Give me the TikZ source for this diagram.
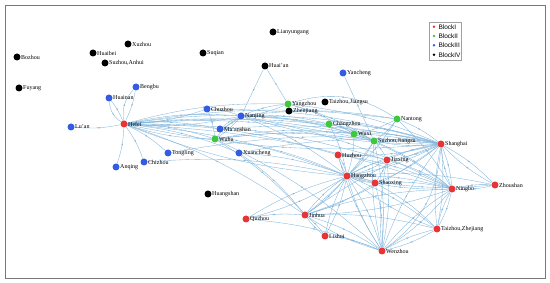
\documentclass[tikz,border=0pt]{standalone}
\usepackage{fontspec}
\setmainfont{Liberation Serif}
\newfontfamily\legfont{Liberation Sans}
\usetikzlibrary{arrows.meta,decorations.markings,backgrounds}
\definecolor{edgeblue}{RGB}{128,180,218}
\definecolor{bred}{RGB}{232,52,52}
\definecolor{bgreen}{RGB}{62,200,62}
\definecolor{bblue}{RGB}{52,92,226}
\definecolor{frameg}{RGB}{120,120,120}
\tikzset{
  city/.style={circle,inner sep=0pt,minimum size=7pt},
  cI/.style={city,fill=bred},
  cII/.style={city,fill=bgreen},
  cIII/.style={city,fill=bblue},
  cIV/.style={city,fill=black},
  lbl/.style={font=\fontsize{6}{6}\selectfont,inner sep=0.3pt,text=black},
  e/.style={draw=edgeblue,line width=0.35pt,bend left=8,
    postaction={decorate},
    decoration={markings,mark=at position 0.5 with {\arrow{Stealth[length=2.2pt,width=1.6pt]}}}},
  es/.style={e,bend left=0},
  eb/.style={e,bend left=25},
  legdot/.style={circle,inner sep=0pt,minimum size=2.8pt},
  legtxt/.style={font=\legfont\fontsize{6.5}{6.5}\selectfont,anchor=west,inner sep=0pt},
}
\begin{document}
\begin{tikzpicture}[x=1pt,y=1pt]
\useasboundingbox (0,0) rectangle (550,283);
\draw[frameg,line width=0.8pt] (5,4.5) rectangle (545,278);
% nodes
\node[cIV,label={[lbl]east:Bozhou}] (bozhou) at (17,226) {};
\node[cIV,label={[lbl]east:Huaibei}] (huaibei) at (93,230) {};
\node[cIV,label={[lbl]east:Xuzhou}] (xuzhou) at (128,239) {};
\node[cIV,label={[lbl]east:Suzhou,Anhui}] (suzhouah) at (105,220) {};
\node[cIV,label={[lbl]east:Fuyang}] (fuyang) at (19,195) {};
\node[cIII,label={[lbl]east:Bengbu}] (bengbu) at (136,196) {};
\node[cIII,label={[lbl]east:Huainan}] (huainan) at (109,185) {};
\node[cIII,label={[lbl]east:Lu'an}] (luan) at (71,156) {};
\node[cI,label={[lbl]east:Hefei}] (hefei) at (124,159) {};
\node[cIV,label={[lbl]east:Lianyungang}] (lianyungang) at (273,251) {};
\node[cIV,label={[lbl]east:Suqian}] (suqian) at (203,230) {};
\node[cIV,label={[lbl]east:Huai'an}] (huaian) at (265,217) {};
\node[cIII,label={[lbl]east:Yancheng}] (yancheng) at (343,210) {};
\node[cII,label={[lbl]east:Yangzhou}] (yangzhou) at (288,179) {};
\node[cIV,label={[lbl]east:Zhenjiang}] (zhenjiang) at (289,172) {};
\node[cIV,label={[lbl]east:Taizhou,Jiangsu}] (taizhoujs) at (325,181) {};
\node[cIII,label={[lbl]east:Chuzhou}] (chuzhou) at (207,174) {};
\node[cIII,label={[lbl]east:Nanjing}] (nanjing) at (241,167) {};
\node[cIII,label={[lbl]east:Ma'anshan}] (maanshan) at (220,154) {};
\node[cII,label={[lbl]east:Changzhou}] (changzhou) at (329,159) {};
\node[cII,label={[lbl]east:Nantong}] (nantong) at (397,164) {};
\node[cIII,label={[lbl]east:Tongling}] (tongling) at (168,130) {};
\node[cIII,label={[lbl]east:Chizhou}] (chizhou) at (144,121) {};
\node[cIII,label={[lbl]east:Anqing}] (anqing) at (116,116) {};
\node[cII,label={[lbl]east:Wuhu}] (wuhu) at (215,144) {};
\node[cIII,label={[lbl]east:Xuancheng}] (xuancheng) at (239,130) {};
\node[cI,label={[lbl]east:Huzhou}] (huzhou) at (338,128) {};
\node[cI,label={[lbl]east:Hangzhou}] (hangzhou) at (347,107) {};
\node[cIV,label={[lbl]east:Huangshan}] (huangshan) at (208,89) {};
\node[cI,label={[lbl]east:Quzhou}] (quzhou) at (246,64) {};
\node[cI,label={[lbl]east:Jinhua}] (jinhua) at (305,68) {};
\node[cI,label={[lbl]east:Lishui}] (lishui) at (325,47) {};
\node[cII,label={[lbl]east:Wuxi}] (wuxi) at (354,149) {};
\node[cII,label={[lbl]east:Suzhou,Jiangsu}] (suzhoujs) at (374,142) {};
\node[cI,label={[lbl]east:Shanghai}] (shanghai) at (441,139) {};
\node[cI,label={[lbl]east:Jiaxing}] (jiaxing) at (387,123) {};
\node[cI,label={[lbl]east:Shaoxing}] (shaoxing) at (375,100) {};
\node[cI,label={[lbl]east:Ningbo}] (ningbo) at (452,94) {};
\node[cI,label={[lbl]east:Zhoushan}] (zhoushan) at (495,98) {};
\node[cI,label={[lbl]east:Taizhou,Zhejiang}] (taizhouzj) at (437,54) {};
\node[cI,label={[lbl]east:Wenzhou}] (wenzhou) at (382,32) {};
% legend
\draw[frameg!70,line width=0.5pt] (429.5,222.5) rectangle (461.5,261);
\node[legdot,fill=bred] (lg1) at (434,256.3) {};
\node[legdot,fill=bgreen] (lg2) at (434,247) {};
\node[legdot,fill=bblue] (lg3) at (434,237.7) {};
\node[legdot,fill=black] (lg4) at (434,228.3) {};
\node[legtxt] (lt1) at (438.3,256.3) {BlockI};
\node[legtxt] (lt2) at (438.3,247) {BlockII};
\node[legtxt] (lt3) at (438.3,237.7) {BlockIII};
\node[legtxt] (lt4) at (438.3,228.3) {BlockIV};
% edges
\begin{pgfonlayer}{background}
% Hefei
\draw[e] (hefei) to (luan);
\draw[e] (huainan) to (hefei);
\draw[eb] (hefei) to (huainan);
\draw[e] (bengbu) to (hefei);
\draw[eb] (hefei) to (bengbu);
\draw[e] (hefei) to (anqing);
\draw[e] (hefei) to (chizhou);
\draw[e] (hefei) to (tongling);
\draw[e] (hefei) to (nanjing);
\draw[e] (nanjing) to (hefei);
\draw[e] (hefei) to (maanshan);
\draw[e] (hefei) to (wuhu);
\draw[e] (wuhu) to (hefei);
\draw[e] (hefei) to (xuancheng);
\draw[e] (chuzhou) to (hefei);
\draw[e] (hefei) to (shanghai);
\draw[e] (shanghai) to (hefei);
\draw[e] (hefei) to (hangzhou);
\draw[e] (hangzhou) to (hefei);
\draw[e] (hefei) to (suzhoujs);
\draw[e] (hefei) to (wuxi);
\draw[e] (hefei) to (changzhou);
\draw[e] (hefei) to (ningbo);
\draw[e] (hefei) to (jiaxing);
\draw[e] (hefei) to (huzhou);
\draw[e] (hefei) to (jinhua);
\draw[e] (hefei) to (nantong);
\draw[e] (hefei) to (yangzhou);
% north
\draw[es] (huaian) to (nanjing);
\draw[es] (huaian) to (yangzhou);
\draw[es] (yancheng) to (suzhoujs);
% Chuzhou, Nanjing, Ma'anshan, Wuhu, Xuancheng
\draw[e] (chuzhou) to (nanjing);
\draw[e] (chuzhou) to (wuhu);
\draw[e] (chuzhou) to (shanghai);
\draw[e] (nanjing) to (shanghai);
\draw[e] (shanghai) to (nanjing);
\draw[e] (nanjing) to (hangzhou);
\draw[e] (nanjing) to (suzhoujs);
\draw[e] (nanjing) to (wuxi);
\draw[e] (nanjing) to (changzhou);
\draw[e] (nanjing) to (yangzhou);
\draw[e] (yangzhou) to (nanjing);
\draw[e] (nanjing) to (maanshan);
\draw[e] (nanjing) to (wuhu);
\draw[e] (nanjing) to (ningbo);
\draw[e] (nanjing) to (nantong);
\draw[e] (maanshan) to (nanjing);
\draw[e] (maanshan) to (shanghai);
\draw[e] (wuhu) to (nanjing);
\draw[e] (wuhu) to (shanghai);
\draw[e] (wuhu) to (hangzhou);
\draw[e] (wuhu) to (suzhoujs);
\draw[e] (wuhu) to (jinhua);
\draw[e] (wuhu) to (wuxi);
\draw[e] (wuhu) to (wenzhou);
\draw[e] (xuancheng) to (hangzhou);
\draw[e] (xuancheng) to (shanghai);
\draw[e] (xuancheng) to (jinhua);
\draw[e] (tongling) to (shanghai);
\draw[e] (chizhou) to (hangzhou);
% Jiangsu
\draw[e] (yangzhou) to (shanghai);
\draw[e] (yangzhou) to (suzhoujs);
\draw[eb] (yangzhou) to (nantong);
\draw[e] (yangzhou) to (wuxi);
\draw[e] (changzhou) to (shanghai);
\draw[e] (changzhou) to (hangzhou);
\draw[e] (changzhou) to (wuxi);
\draw[e] (changzhou) to (suzhoujs);
\draw[e] (nantong) to (shanghai);
\draw[e] (nantong) to (suzhoujs);
\draw[e] (nantong) to (wuxi);
\draw[e] (nantong) to (ningbo);
\draw[e] (nantong) to (hangzhou);
\draw[e] (wuxi) to (shanghai);
\draw[e] (wuxi) to (suzhoujs);
\draw[e] (wuxi) to (hangzhou);
\draw[e] (wuxi) to (ningbo);
\draw[e] (suzhoujs) to (shanghai);
\draw[e] (shanghai) to (suzhoujs);
\draw[e] (suzhoujs) to (hangzhou);
\draw[e] (suzhoujs) to (ningbo);
\draw[e] (suzhoujs) to (jiaxing);
\draw[e] (suzhoujs) to (wenzhou);
\draw[e] (suzhoujs) to (jinhua);
% Zhejiang / Shanghai
\draw[e] (shanghai) to (hangzhou);
\draw[e] (hangzhou) to (shanghai);
\draw[e] (shanghai) to (ningbo);
\draw[e] (ningbo) to (shanghai);
\draw[e] (shanghai) to (jiaxing);
\draw[eb] (shanghai) to (wenzhou);
\draw[e] (shanghai) to (taizhouzj);
\draw[e] (shanghai) to (jinhua);
\draw[e] (shanghai) to (shaoxing);
\draw[e] (shanghai) to (huzhou);
\draw[e] (shanghai) to (zhoushan);
\draw[e] (zhoushan) to (shanghai);
\draw[e] (huzhou) to (hangzhou);
\draw[e] (huzhou) to (jiaxing);
\draw[e] (huzhou) to (ningbo);
\draw[e] (jiaxing) to (hangzhou);
\draw[e] (jiaxing) to (ningbo);
\draw[e] (jiaxing) to (shanghai);
\draw[e] (jiaxing) to (shaoxing);
\draw[e] (jiaxing) to (wenzhou);
\draw[e] (hangzhou) to (ningbo);
\draw[e] (ningbo) to (hangzhou);
\draw[e] (hangzhou) to (wenzhou);
\draw[e] (wenzhou) to (hangzhou);
\draw[e] (hangzhou) to (jinhua);
\draw[e] (jinhua) to (hangzhou);
\draw[e] (hangzhou) to (shaoxing);
\draw[e] (hangzhou) to (taizhouzj);
\draw[e] (hangzhou) to (quzhou);
\draw[e] (quzhou) to (hangzhou);
\draw[e] (hangzhou) to (lishui);
\draw[e] (hangzhou) to (huzhou);
\draw[e] (hangzhou) to (jiaxing);
\draw[e] (hangzhou) to (zhoushan);
\draw[e] (shaoxing) to (ningbo);
\draw[e] (shaoxing) to (hangzhou);
\draw[e] (shaoxing) to (wenzhou);
\draw[e] (shaoxing) to (jinhua);
\draw[e] (shaoxing) to (taizhouzj);
\draw[e] (ningbo) to (zhoushan);
\draw[e] (zhoushan) to (ningbo);
\draw[e] (ningbo) to (wenzhou);
\draw[e] (ningbo) to (taizhouzj);
\draw[e] (ningbo) to (jinhua);
\draw[e] (zhoushan) to (hangzhou);
\draw[e] (quzhou) to (jinhua);
\draw[e] (quzhou) to (wenzhou);
\draw[e] (jinhua) to (wenzhou);
\draw[e] (jinhua) to (lishui);
\draw[e] (jinhua) to (ningbo);
\draw[e] (jinhua) to (shanghai);
\draw[e] (jinhua) to (taizhouzj);
\draw[e] (lishui) to (wenzhou);
\draw[e] (lishui) to (hangzhou);
\draw[e] (lishui) to (jinhua);
\draw[e] (taizhouzj) to (wenzhou);
\draw[e] (taizhouzj) to (ningbo);
\draw[e] (taizhouzj) to (hangzhou);
\draw[e] (taizhouzj) to (shanghai);
\draw[e] (wenzhou) to (ningbo);
\draw[e] (wenzhou) to (taizhouzj);
\draw[e] (wenzhou) to (shanghai);
\draw[e] (wenzhou) to (jiaxing);
\draw[e] (wenzhou) to (huzhou);
\draw[e] (wenzhou) to (suzhoujs);
\draw[e] (wenzhou) to (jinhua);
\end{pgfonlayer}
\end{tikzpicture}
\end{document}
